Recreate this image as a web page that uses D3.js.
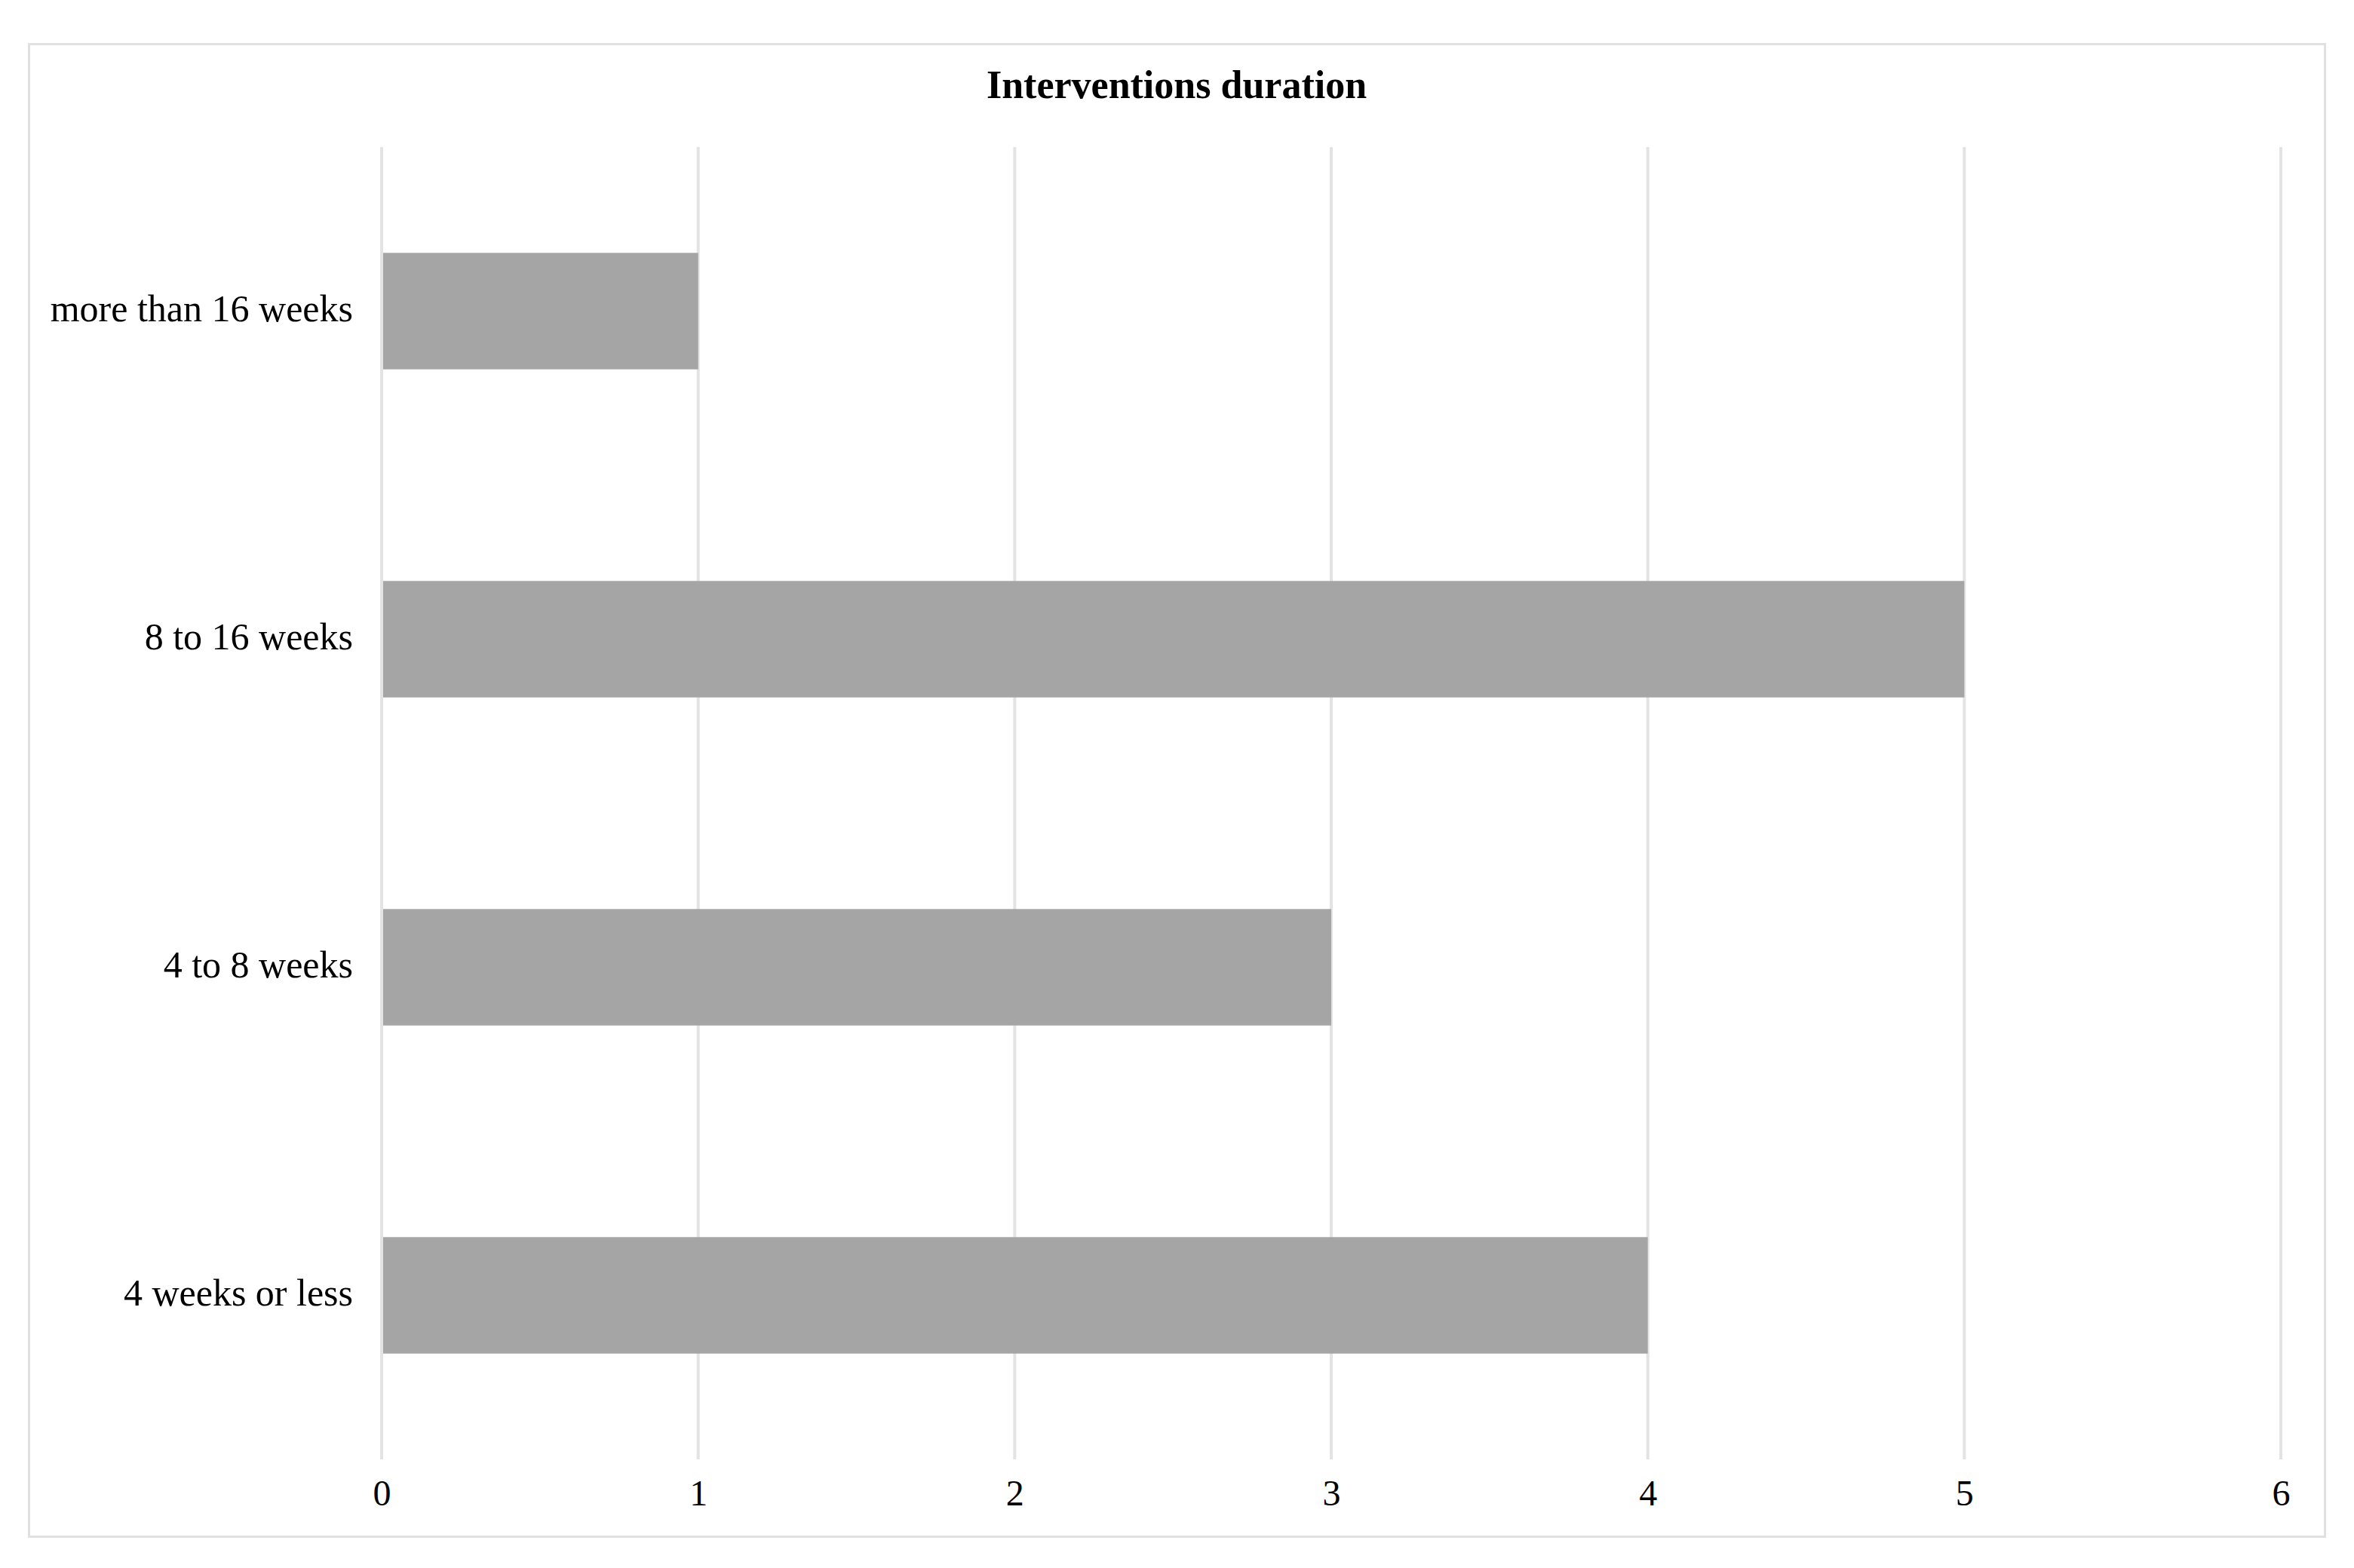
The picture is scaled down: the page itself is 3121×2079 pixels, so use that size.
<!DOCTYPE html>
<html>
<head>
<meta charset="utf-8">
<script src="https://cdn.jsdelivr.net/npm/d3@7"></script>
<style>
  html, body { margin: 0; padding: 0; background: #fff; }
  svg { display: block; }
</style>
</head>
<body>
<script>
const categories = ["more than 16 weeks", "8 to 16 weeks", "4 to 8 weeks", "4 weeks or less"];
const values = [1, 5, 3, 4];
const tickValues = [0, 1, 2, 3, 4, 5, 6];
const title = "Interventions duration";

const W = 3121, H = 2079;
const font = "'Liberation Serif', 'DejaVu Serif', serif";

const svg = d3.select("body").append("svg").attr("width", W).attr("height", H);
svg.append("rect").attr("width", W).attr("height", H).attr("fill", "#fff");

// chart frame
svg.append("rect")
  .attr("x", 38.5).attr("y", 58.5).attr("width", 3044).attr("height", 1979)
  .attr("fill", "#fff").attr("stroke", "#e0e0e0").attr("stroke-width", 3);

const x = d3.scaleLinear().domain([0, 6]).range([506, 3024]);
const y = d3.scaleBand().domain(categories).range([195, 1935]).paddingInner(0.645).paddingOuter(0.3225);

// gridlines
svg.append("g").selectAll("line").data(tickValues).join("line")
  .attr("x1", d => x(d)).attr("x2", d => x(d))
  .attr("y1", 195).attr("y2", 1935)
  .attr("stroke", "#e3e3e3").attr("stroke-width", 4);

// bars
svg.append("g").selectAll("rect").data(values).join("rect")
  .attr("x", x(0) + 2)
  .attr("y", (d, i) => y(categories[i]))
  .attr("width", d => x(d) - x(0) - 2)
  .attr("height", y.bandwidth())
  .attr("fill", "#a5a5a5");

// x axis labels
const xAxis = d3.axisBottom(x).tickValues(tickValues).tickSize(0).tickPadding(0).tickFormat(d3.format("d"));
const gx = svg.append("g").attr("transform", "translate(0,1962)").call(xAxis);
gx.select(".domain").remove();
gx.selectAll("text").attr("font-family", font).attr("font-size", 48).attr("fill", "#000");

// y axis labels
const yAxis = d3.axisLeft(y).tickSize(0).tickPadding(38);
const gy = svg.append("g").attr("transform", `translate(${x(0)},0)`).call(yAxis);
gy.select(".domain").remove();
gy.selectAll("text").attr("font-family", font).attr("font-size", 50).attr("fill", "#000").attr("dy", "0.26em");

// title
svg.append("text")
  .attr("x", 1560).attr("y", 130)
  .attr("text-anchor", "middle")
  .attr("font-family", font).attr("font-weight", "bold").attr("font-size", 52)
  .attr("fill", "#000")
  .text(title);
</script>
</body>
</html>
